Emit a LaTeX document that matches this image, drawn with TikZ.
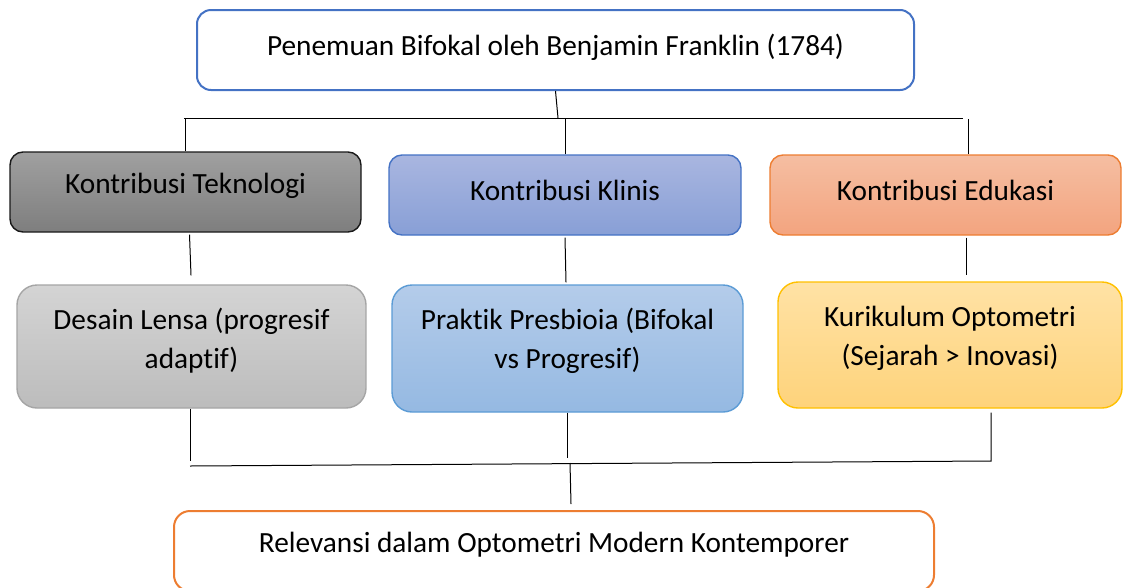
\documentclass[tikz,border=0pt]{standalone}
\usepackage{fontspec}
\setmainfont{Carlito}[Ligatures={NoCommon}]
\definecolor{cBlue}{HTML}{4472C4}
\definecolor{cOrange}{HTML}{ED7D31}
\definecolor{cGold}{HTML}{FFC000}
\definecolor{cSky}{HTML}{5B9BD5}
\definecolor{cGrayB}{HTML}{A5A5A5}
\definecolor{tekTop}{HTML}{A0A0A0}
\definecolor{tekBot}{HTML}{7E7E7E}
\definecolor{kliTop}{HTML}{A9B6E0}
\definecolor{kliBot}{HTML}{889FD6}
\definecolor{eduTop}{HTML}{F5BEA2}
\definecolor{eduBot}{HTML}{F3A47F}
\definecolor{desTop}{HTML}{D4D4D4}
\definecolor{desBot}{HTML}{BCBCBC}
\definecolor{praTop}{HTML}{B4CCEA}
\definecolor{praBot}{HTML}{95B9E2}
\definecolor{kurTop}{HTML}{FFE2A5}
\definecolor{kurBot}{HTML}{FED37B}
\begin{document}
\begin{tikzpicture}[x=1pt,y=-1pt,
  shapebox/.style={draw, rectangle, line width=1.4pt, inner sep=0pt},
  txt/.style={align=center, inner sep=0pt, font=\fontsize{29.3}{39}\selectfont},
  conn/.style={draw=black, line width=1pt}
]
\useasboundingbox (0,0) rectangle (1124,587);
\clip (0,0) rectangle (1124,587);

% top box
\node[shapebox, rounded corners=14pt, draw=cBlue, line width=2pt, fill=white,
      minimum width=717pt, minimum height=80pt] (top) at (555.5,50) {};
\node[txt] (topT) at ([yshift=3pt]top.center) {Penemuan Bifokal oleh Benjamin Franklin (1784)};

% second row
\node[shapebox, rounded corners=13pt, draw=black!90, top color=tekTop, bottom color=tekBot,
      minimum width=351pt, minimum height=80pt] (tek) at (185.5,192) {};
\node[txt] (tekT) at ([yshift=6pt]tek.center) {Kontribusi Teknologi};

\node[shapebox, rounded corners=13pt, draw=cBlue, top color=kliTop, bottom color=kliBot,
      minimum width=352pt, minimum height=80pt] (kli) at (565,195) {};
\node[txt] (kliT) at ([yshift=5pt]kli.center) {Kontribusi Klinis};

\node[shapebox, rounded corners=13pt, draw=cOrange, top color=eduTop, bottom color=eduBot,
      minimum width=351pt, minimum height=80pt] (edu) at (945.5,195) {};
\node[txt] (eduT) at ([yshift=5pt]edu.center) {Kontribusi Edukasi};

% third row
\node[shapebox, rounded corners=20pt, draw=cGrayB, top color=desTop, bottom color=desBot,
      minimum width=349pt, minimum height=123pt] (des) at (191.5,346.5) {};
\node[txt] (desT) at ([yshift=6pt]des.center) {Desain Lensa (progresif\\adaptif)};

\node[shapebox, rounded corners=20pt, draw=cSky, top color=praTop, bottom color=praBot,
      minimum width=351pt, minimum height=127pt] (pra) at (567.5,348.5) {};
\node[txt] (praT) at ([yshift=8pt]pra.center) {Praktik Presbioia (Bifokal\\vs Progresif)};

\node[shapebox, rounded corners=20pt, draw=cGold, top color=kurTop, bottom color=kurBot,
      minimum width=344pt, minimum height=126pt] (kur) at (950,345) {};
\node[txt] (kurT) at ([yshift=7pt]kur.center) {Kurikulum Optometri\\(Sejarah > Inovasi)};

% bottom box
\node[shapebox, rounded corners=16pt, draw=cOrange, line width=2pt, fill=white,
      minimum width=760pt, minimum height=80pt] (rel) at (554,551) {};
\node[txt] (relT) at ([yshift=6pt]rel.center) {Relevansi dalam Optometri Modern Kontemporer};

% top bus
\coordinate (busL) at (184,118);
\coordinate (busR) at (963,118);
\coordinate (busT) at (558,118);
\draw[conn] (top.south) -- (busT);
\draw[conn] (busL) -- (busR);
\draw[conn] (tek.north) -- (tek.north |- busL);
\draw[conn] (kli.north) -- (kli.north |- busL);
\draw[conn] ([xshift=22.5pt]edu.north) -- ++(0,-35);

% second to third row
\draw[conn] ([xshift=4pt,yshift=-2pt]tek.south) -- ([xshift=-0.5pt,yshift=9pt]des.north);
\draw[conn] ([yshift=-2pt]kli.south) -- ([xshift=-1.5pt,yshift=2pt]pra.north);
\draw[conn] ([xshift=20.5pt,yshift=-2pt]edu.south) -- ([xshift=16pt,yshift=6pt]kur.north);

% bottom bus
\coordinate (jL) at (190,466);
\coordinate (jR) at (991,461);
\coordinate (jM) at (570,463);
\draw[conn] ([xshift=-1.5pt]des.south) -- (190,461);
\draw[conn] (pra.south) -- (567.5,458);
\draw[conn] ([xshift=41pt,yshift=-4pt]kur.south) -- (jR) -- (jL);
\draw[conn] (jM) -- ([xshift=17pt,yshift=6pt]rel.north);
\end{tikzpicture}
\end{document}
